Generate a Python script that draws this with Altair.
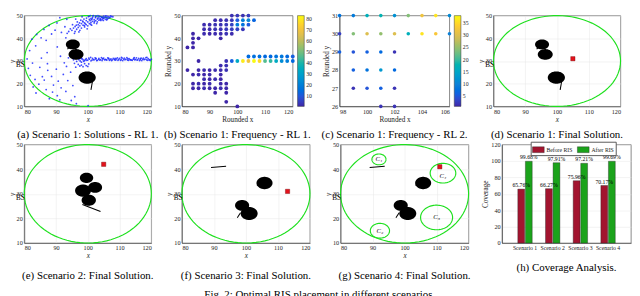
import altair as alt
import numpy as np
import pandas as pd

FONT = "Liberation Serif"
GREEN = "#1ee01e"
RED = "#e3121c"
PARULA = ["#3e26a8", "#1c5ce0", "#1483d6", "#0aa5c8", "#30b8a2",
          "#86bf76", "#d2bb58", "#fdc733", "#f9fb0e"]

# ---------------- coverage area ----------------
AREA_CX, AREA_CY, AREA_R = 100, 30, 20
BS_X, BS_Y = 80, 28.3

# ---------------- scenario 1 ----------------
s1_blob_x = [95.3, 96.3, 99.8]
s1_blob_y = [37.3, 32.9, 22.7]
s1_blob_r = [2.2, 2.35, 2.7]
s1_seg_x1 = [93.6, 101.5]
s1_seg_y1 = [35.2, 21.3]
s1_seg_x2 = [94.4, 101.0]
s1_seg_y2 = [36.3, 17.3]
s1_ris = (105, 31)

# ---------------- scenario 2 ----------------
s2_blob_x = [99.6, 102.3, 98.5, 100.3]
s2_blob_y = [36.5, 32.6, 31.3, 27.4]
s2_blob_r = [2.1, 2.2, 2.5, 2.25]
s2_seg_x1 = [98.3]
s2_seg_y1 = [25.7]
s2_seg_x2 = [104.0]
s2_seg_y2 = [22.8]
s2_ris = (105, 42)

# ---------------- scenario 3 / 4 ----------------
s3_blob_x = [105.8, 98.8, 101.0]
s3_blob_y = [34.4, 25.3, 22.0]
s3_blob_r = [2.5, 2.2, 2.65]
s3_seg_x1 = [89.1, 103.4, 97.3]
s3_seg_y1 = [40.7, 33.5, 20.3]
s3_seg_x2 = [93.8, 104.2, 98.3]
s3_seg_y2 = [41.2, 33.6, 22.3]
s3_ris = (113, 31)
s4_ris = (111, 41)
zone_x = [92.0, 92.3, 110.0, 112.0]
zone_y = [44.0, 15.0, 20.4, 38.4]
zone_r = [2.2, 3.0, 5.0, 4.0]
zone_lab = ["C₁", "C₂", "C₃", "C₄"]
zone_lab_y = [44.0, 15.0, 20.4, 37.4]

# ---------------- (a) RL1 solutions ----------------
band_x = [98, 98.5, 99, 99.5, 100, 100.5, 101, 101.5, 102, 102.5, 103, 103.5, 104, 104.5, 105,
          105.5, 106, 106.5, 107, 107.5, 108, 108.5, 109, 109.5, 110, 110.5, 111, 111.5, 112,
          112.5, 113, 113.5, 114, 114.5, 115, 115.5, 116, 116.5, 117, 117.5, 118, 118.5, 119,
          119.5, 120,
          99.2, 100.3, 101.3, 102.3, 103.4, 104.3, 105.3, 106.3, 107.3, 108.3, 109.3, 110.3,
          111.3, 112.3, 113.3, 114.3, 115.3, 116.3, 117.3, 118.3, 119.3, 102.8, 104.8, 106.8,
          108.8, 110.8, 112.8, 114.8, 116.8, 118.8,
          98.2, 99.7, 100.9, 101.7, 102.6, 103.8, 104.6, 105.8, 106.6, 107.7, 108.6, 109.7,
          110.6, 111.7, 112.6, 113.7, 114.6, 115.7, 116.6, 117.7, 118.6, 119.7, 97.6, 97.9, 98.7]
band_y = [29.5, 30.6, 30.2, 31, 30.4, 30.8, 30.1, 31.2, 30.5, 30.9, 30.3, 31.1, 30.6, 30.2, 31.3,
          30.7, 30.4, 31, 30.6, 30.2, 31.2, 30.5, 30.9, 30.3, 31.1, 30.6, 30.2, 31.3, 30.8, 30.4,
          31, 30.6, 30.3, 31.2, 30.7, 30.4, 31.1, 30.6, 30.2, 31.3, 30.8, 30.5, 31, 30.6, 30.8,
          30.6, 31.3, 30.4, 31.4, 30.7, 31.5, 30.5, 31.4, 30.9, 30.7, 31.4, 30.3, 30.8, 31.5,
          30.5, 30.8, 31.4, 30.2, 30.8, 31.5, 30.4, 30.2, 30.9, 30.3, 30.4, 31.3, 30.3, 30.5,
          31.3, 30.3,
          31.0, 30.3, 31.6, 30.6, 31.1, 30.4, 31.0, 30.6, 31.2, 30.5, 31.1, 30.7, 31.6, 30.5,
          31.0, 30.4, 31.5, 30.5, 31.0, 30.6, 31.6, 30.2, 30.0, 31.1, 29.9]
cluster_x = [96.5, 97, 97.5, 98, 98.5, 99, 99.5, 100, 100.3, 97.2, 96.8, 95.5, 95.8, 96.2]
cluster_y = [29.8, 28.5, 27.8, 28.2, 27.5, 28.8, 28, 27.6, 28.7, 30.6, 31.2, 30.5, 29, 27.3]
diag_x = [95, 95.5, 96, 96, 96.5, 97, 97, 97.5, 97.5, 98, 98, 98.5, 98.5, 99, 99, 99.5, 99.5,
          100, 100, 100.5, 100.5, 101, 101, 101.5, 101.5, 102, 102, 102.5, 102.5, 103, 103,
          103.5, 103.5, 104, 104, 104.5, 104.5, 105, 105, 105.5, 105.5, 106, 106, 106.5, 107,
          107.5, 101.2, 102.8, 100.2, 98.8, 97.8, 99.8, 101.8, 103.2, 96.7, 95.2, 94.5, 94,
          93.5, 95.8, 97.2, 96.2, 100.8, 98.2,
          100.4, 101.6, 102.4, 103.6, 104.4, 105.6, 106.4, 107.2, 103.1, 104.1, 105.1, 106.1,
          101.1, 102.1, 99.6, 100.7, 98.4, 97.4, 104.7, 105.9, 106.8, 107.9, 103.9, 102.6,
          101.4, 99.2, 100.9, 104.9, 98.9, 96.4]
diag_y = [43.5, 44.5, 43, 45.2, 44, 44.8, 46, 43.5, 45.5, 44.5, 46.5, 45.8, 47.2, 45, 46.8, 46,
          47.8, 45.5, 47.2, 46.5, 48.3, 47, 48.8, 47.5, 49.2, 46.8, 48.2, 47.8, 49.5, 48.5, 47.2,
          49, 48, 48.6, 49.6, 48.2, 49.3, 48.8, 49.8, 48.5, 49.4, 49, 49.8, 48.8, 49.3, 49.6,
          45.8, 46.5, 49.6, 48.5, 48, 44.2, 50, 50, 47.2, 46, 44.2, 43, 42.2, 42.2, 42.8, 48.5,
          50, 49.5,
          49.7, 49.9, 49.1, 49.8, 49.2, 49.9, 49.6, 49.9, 48.9, 47.9, 49.1, 48.4, 48.2, 47.4,
          48.9, 47.8, 47.6, 46.8, 48.9, 48.1, 49.2, 49.5, 48.3, 49.9, 48.6, 46.4, 46.2, 47.9,
          45.6, 45.8]
sparse_x = [91.2, 93.4, 90.3, 87.8, 89.7, 86.2, 83.9, 85.3, 82.4, 86.9, 88.6, 91.7, 92.8, 93.1,
            90.4, 83.6, 81.7, 85.4, 87.2, 91.4, 93.9, 92.6, 93.3,
            81.3, 82.6, 81.9, 83.4, 82.8, 84.9, 85.7, 84.6, 86.9, 86.3, 87.4, 88.6, 89.2, 88.9,
            90.1, 90.7, 91.6, 90.4, 92.3, 93.1, 93.7, 94.6, 95.3, 95.9, 94.8, 96.4, 100.1, 91.2,
            87.9, 83.7, 87.3, 80.9]
sparse_y = [49.1, 48.4, 46.8, 45.7, 43.6, 43.9, 41.7, 40.2, 39.6, 39.1, 41.9, 42.6, 45.1, 40.2,
            36.2, 36.7, 34.6, 31.3, 33.7, 32.1, 31.4, 29.2, 27.6,
            26.8, 29.1, 23.7, 21.9, 18.6, 27.2, 23.1, 19.8, 17.4, 21.6, 25.9, 23.2, 19.4, 16.3,
            26.4, 21.1, 18.2, 14.7, 24.1, 16.6, 21.4, 25.1, 19.2, 14.3, 12.6, 11.2, 10.3, 12.9,
            13.4, 15.9, 28.8, 30.9]
pa_x = band_x + cluster_x + diag_x + sparse_x
pa_y = band_y + cluster_y + diag_y + sparse_y

# ---------------- (b) frequency RL1 ----------------
pb_x = [98, 100, 102, 104,
        92, 94, 96, 98, 100, 102, 104, 106,
        88, 90, 92, 94, 96, 98, 100, 102, 104,
        88, 90, 92, 94, 96, 98, 100, 102,
        84, 88, 90, 92, 94, 96, 98,
        84, 86, 94, 84, 82, 84,
        104, 106, 108, 110, 112, 114, 116, 118, 120,
        86, 96, 98, 100, 102, 104, 106, 108, 110, 112, 114, 116, 118, 120,
        94, 96,
        82, 86, 88, 90, 92, 94, 96,
        84, 86, 88, 90, 94,
        88, 90, 92, 94,
        84, 86, 88, 90, 94, 96,
        84, 86, 88, 90, 92, 94, 96,
        92, 96, 96, 100]
pb_y = [50, 50, 50, 50,
        48, 48, 48, 48, 48, 48, 48, 48,
        46, 46, 46, 46, 46, 46, 46, 46, 46,
        44, 44, 44, 44, 44, 44, 44, 44,
        42, 42, 42, 42, 42, 42, 42,
        40, 40, 40, 38, 36, 36,
        32, 32, 32, 32, 32, 32, 32, 32, 32,
        30, 30, 30, 30, 30, 30, 30, 30, 30, 30, 30, 30, 30, 30,
        28, 28,
        26, 26, 26, 26, 26, 26, 26,
        24, 24, 24, 24, 24,
        22, 22, 22, 22,
        20, 20, 20, 20, 20, 20,
        18, 18, 18, 18, 18, 18, 18,
        16, 16, 12, 10]
pb_f = [3, 4, 3, 5,
        2, 2, 3, 4, 11, 20, 22, 13,
        2, 2, 3, 3, 4, 6, 19, 17, 11,
        2, 2, 3, 3, 4, 5, 6, 4,
        1, 2, 1, 2, 2, 3, 2,
        1, 1, 1, 1, 1, 1,
        15, 16, 16, 14, 14, 17, 18, 14, 12,
        1, 3, 12, 33, 80, 70, 83, 76, 46, 42, 34, 24, 20, 14,
        2, 3,
        1, 1, 2, 1, 2, 2, 3,
        1, 2, 1, 2, 1,
        2, 1, 2, 1,
        1, 2, 1, 2, 1, 1,
        1, 1, 2, 1, 1, 2, 1,
        1, 1, 1, 1]

# ---------------- (c) frequency RL2 ----------------
pc_x = [98, 99, 100, 101, 102, 103, 104, 105, 106,
        98, 99, 100, 101, 102, 103, 104, 105, 106,
        98, 99, 100, 101, 102,
        99, 100, 101, 102,
        99, 100, 101, 102,
        101, 102]
pc_y = [31] * 9 + [30] * 9 + [29] * 5 + [28] * 4 + [27] * 4 + [26] * 2
pc_f = [8, 9, 17, 18, 12, 24, 32, 36, 11,
        3, 24, 30, 25, 30, 17, 36, 33, 10,
        6, 5, 6, 7, 2,
        6, 8, 13, 7,
        2, 5, 6, 2,
        2, 2]

# ---------------- (h) coverage ----------------
scenarios = ["Scenario 1", "Scenario 2", "Scenario 3", "Scenario 4"]
cov_before = [65.76, 66.27, 75.96, 70.17]
cov_after = [99.68, 97.91, 97.21, 99.69]

captions = ["(a) Scenario 1: Solutions - RL 1.", "(b) Scenario 1: Frequency - RL 1.",
            "(c) Scenario 1: Frequency - RL 2.", "(d) Scenario 1: Final Solution.",
            "(e) Scenario 2: Final Solution.", "(f) Scenario 3: Final Solution.",
            "(g) Scenario 4: Final Solution.", "(h) Coverage Analysis."]
FIG_CAPTION = "Fig. 2: Optimal RIS placement in different scenarios."

H1, H2 = 95, 103
CAP_SIZE = 11.4
OFF1, OFF2 = 7, 12


# ---------------- helpers (build tables from the lists) ----------------
def outline_table(cx, cy, r, n=90):
    rows = []
    t = np.linspace(0, 2 * np.pi, n)
    for i, (a, b, c) in enumerate(zip(cx, cy, r)):
        for k, tt in enumerate(t):
            rows.append({"id": i, "k": k, "x": a + c * np.cos(tt), "y": b + c * np.sin(tt)})
    return pd.DataFrame(rows)


def disc_table(cx, cy, r, n=41):
    rows = []
    t = np.linspace(np.pi, 0, n)
    for i, (a, b, c) in enumerate(zip(cx, cy, r)):
        for tt in t:
            rows.append({"id": i, "x": a + c * np.cos(tt),
                         "y": b - c * np.sin(tt), "y2": b + c * np.sin(tt)})
    return pd.DataFrame(rows)


def seg_table(x1, y1, x2, y2):
    rows = []
    for i in range(len(x1)):
        rows.append({"id": i, "k": 0, "x": x1[i], "y": y1[i]})
        rows.append({"id": i, "k": 1, "x": x2[i], "y": y2[i]})
    return pd.DataFrame(rows)


def cap(text, off):
    return alt.TitleParams(text=text, orient="bottom", anchor="middle", offset=off,
                           fontSize=CAP_SIZE, font=FONT, fontWeight="normal", color="black")


def scatter_panel(caption, blobs, segs, ris, w, h, off, pts=None, zones=False):
    xs = alt.Scale(domain=[80, 120], nice=False, zero=False)
    ys = alt.Scale(domain=[10, 50], nice=False, zero=False)
    xax = alt.Axis(values=[80, 90, 100, 110, 120], title="x", titleFontStyle="italic", grid=True)
    yax = alt.Axis(values=[10, 20, 30, 40, 50], title="y", titleFontStyle="italic", grid=True,
                   titlePadding=0)
    X = alt.X("x:Q", scale=xs, axis=xax)
    Y = alt.Y("y:Q", scale=ys, axis=yax)
    cx, cy, cr = [AREA_CX], [AREA_CY], [AREA_R]
    if zones:
        cx, cy, cr = cx + zone_x, cy + zone_y, cr + zone_r
    layers = [alt.Chart(outline_table(cx, cy, cr)).mark_line(color=GREEN, strokeWidth=1.2)
              .encode(X, Y, detail="id:N", order="k:Q")]
    if pts is not None:
        layers.append(alt.Chart(pd.DataFrame({"x": pts[0], "y": pts[1]}))
                      .mark_circle(size=3.5, color="#1f2bff", opacity=0.85).encode(X, Y))
    layers.append(alt.Chart(disc_table(*blobs)).mark_area(color="black", orient="vertical")
                  .encode(X, Y, y2="y2:Q", detail="id:N"))
    layers.append(alt.Chart(seg_table(*segs)).mark_line(color="black", strokeWidth=1.1)
                  .encode(X, Y, detail="id:N", order="k:Q"))
    if ris is not None:
        layers.append(alt.Chart(pd.DataFrame({"x": [ris[0]], "y": [ris[1]]}))
                      .mark_square(size=20, color=RED, opacity=1, stroke="#700000", strokeWidth=0.4)
                      .encode(X, Y))
    if zones:
        layers.append(alt.Chart(pd.DataFrame({"x": zone_x, "y": zone_lab_y, "t": zone_lab}))
                      .mark_text(font=FONT, fontSize=7, fontStyle="italic", color="black")
                      .encode(X, Y, text="t:N"))
    layers.append(alt.Chart(pd.DataFrame({"x": [BS_X], "y": [BS_Y], "t": ["BS"]}))
                  .mark_text(font=FONT, fontSize=7.5, dx=-4, color="black")
                  .encode(X, Y, text="t:N"))
    return alt.layer(*layers).properties(width=w, height=h, title=cap(caption, off))


def freq_panel(caption, xs_, ys_, fs_, xdom, xvals, ydom, yvals, cdom, cvals, size, w, h, off):
    stops = list(np.linspace(cdom[0], cdom[1], len(PARULA)))
    df = pd.DataFrame({"x": xs_, "y": ys_, "f": fs_})
    return alt.Chart(df).mark_circle(size=size, opacity=1).encode(
        x=alt.X("x:Q", scale=alt.Scale(domain=xdom, nice=False, zero=False),
                axis=alt.Axis(values=xvals, title="Rounded x", grid=False)),
        y=alt.Y("y:Q", scale=alt.Scale(domain=ydom, nice=False, zero=False),
                axis=alt.Axis(values=yvals, title="Rounded y", grid=False)),
        color=alt.Color("f:Q", scale=alt.Scale(domain=stops, range=PARULA),
                        legend=alt.Legend(title=None, orient="right", gradientLength=h,
                                          gradientThickness=7, values=cvals, labelFontSize=6,
                                          offset=5, gradientStrokeColor="#333",
                                          gradientStrokeWidth=0.5, tickCount=len(cvals))),
    ).properties(width=w, height=h, title=cap(caption, off))


def bar_panel(caption, w, h, off):
    df = pd.DataFrame({
        "scenario": scenarios * 2,
        "series": ["Before RIS"] * 4 + ["After RIS"] * 4,
        "v": cov_before + cov_after,
    })
    df["label"] = [f"{v:.2f}%" for v in df["v"]]
    X = alt.X("scenario:N", sort=scenarios,
              scale=alt.Scale(paddingInner=0.48, paddingOuter=0.57),
              axis=alt.Axis(title=None, labelAngle=0, labelFontSize=6, grid=False))
    XO = alt.XOffset("series:N", sort=["Before RIS", "After RIS"],
                     scale=alt.Scale(paddingInner=0.1))
    Y = alt.Y("v:Q", scale=alt.Scale(domain=[0, 120], nice=False),
              axis=alt.Axis(values=[0, 20, 40, 60, 80, 100, 120], title="Coverage", grid=True))
    bars = alt.Chart(df).mark_bar(stroke="#222", strokeWidth=0.4).encode(
        X, XO, Y,
        color=alt.Color("series:N", sort=["Before RIS", "After RIS"],
                        scale=alt.Scale(domain=["Before RIS", "After RIS"],
                                        range=["#a2142f", "#1ba31b"]),
                        legend=alt.Legend(title=None, orient="none", direction="horizontal",
                                          legendX=30, legendY=-3, labelFontSize=6,
                                          symbolType="M-1,-0.5H1V0.5H-1Z", symbolSize=150,
                                          symbolStrokeWidth=0.4, symbolStrokeColor="#222",
                                          strokeColor="#555", fillColor="white", padding=1.5,
                                          columnPadding=3, labelOffset=2)))
    text = alt.Chart(df).mark_text(font=FONT, fontSize=6, dy=-4, color="black").encode(
        X, XO, Y, text="label:N")
    return alt.layer(bars, text).properties(width=w, height=h, title=cap(caption, off))


pa = scatter_panel(captions[0], (s1_blob_x, s1_blob_y, s1_blob_r),
                   (s1_seg_x1, s1_seg_y1, s1_seg_x2, s1_seg_y2), None, 133, H1, OFF1,
                   pts=(pa_x, pa_y))
pb = freq_panel(captions[1], pb_x, pb_y, pb_f, [80, 120], [80, 90, 100, 110, 120],
                [10, 50], [10, 20, 30, 40, 50], [1, 83], [10, 20, 30, 40, 50, 60, 70, 80],
                16, 116, H1, OFF1)
pc = freq_panel(captions[2], pc_x, pc_y, pc_f, [98, 106], [98, 100, 102, 104, 106],
                [26, 31], [26, 27, 28, 29, 30, 31], [1, 38], [5, 10, 15, 20, 25, 30, 35],
                14, 115, H1, OFF1)
pd_ = scatter_panel(captions[3], (s1_blob_x, s1_blob_y, s1_blob_r),
                    (s1_seg_x1, s1_seg_y1, s1_seg_x2, s1_seg_y2), s1_ris, 133, H1, OFF1)
pe = scatter_panel(captions[4], (s2_blob_x, s2_blob_y, s2_blob_r),
                   (s2_seg_x1, s2_seg_y1, s2_seg_x2, s2_seg_y2), s2_ris, 133, H2, OFF2)
pf = scatter_panel(captions[5], (s3_blob_x, s3_blob_y, s3_blob_r),
                   (s3_seg_x1, s3_seg_y1, s3_seg_x2, s3_seg_y2), s3_ris, 134, H2, OFF2)
pg = scatter_panel(captions[6], (s3_blob_x, s3_blob_y, s3_blob_r),
                   (s3_seg_x1, s3_seg_y1, s3_seg_x2, s3_seg_y2), s4_ris, 134, H2, OFF2,
                   zones=True)
ph = bar_panel(captions[7], 135, H2, OFF2)

row1 = alt.hconcat(alt.hconcat(pa, pb, spacing=4).resolve_scale(color="independent"),
                   pc, pd_, spacing=8).resolve_scale(color="independent")
row2 = alt.hconcat(alt.hconcat(pe, pf, pg, spacing=12).resolve_scale(color="independent"),
                   ph, spacing=10).resolve_scale(color="independent")

chart = alt.vconcat(row1, row2, spacing=0,
                    title=alt.TitleParams(FIG_CAPTION, orient="bottom", anchor="middle", offset=8,
                                          fontSize=CAP_SIZE, font=FONT, fontWeight="normal")
                    ).resolve_scale(color="independent").configure(
    padding={"left": 0, "top": -3, "right": 0, "bottom": 0}, font=FONT
).configure_view(stroke="#333333", strokeWidth=0.6).configure_axis(
    labelFont=FONT, titleFont=FONT, labelFontSize=6.5, titleFontSize=7.5,
    titleFontWeight="normal", labelColor="#222", titleColor="#222",
    domainColor="#333", domainWidth=0.6, ticks=False, labelPadding=2,
    gridColor="#e6e6e6", gridWidth=0.5, titlePadding=1
).configure_legend(labelFont=FONT, labelColor="#222")

chart.save("out.html", embed_options={"renderer": "svg", "actions": False})
